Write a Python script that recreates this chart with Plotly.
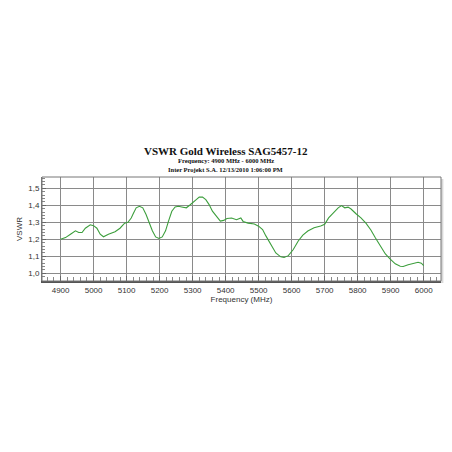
import plotly.graph_objects as go

freq_mhz = [4900, 4915, 4930, 4945, 4955, 4965, 4975, 4990, 5000, 5010, 5020, 5030, 5045, 5065,
            5080, 5094, 5104, 5114, 5120, 5129, 5139, 5149, 5159, 5169, 5178, 5188, 5198, 5208,
            5218, 5227, 5237, 5247, 5257, 5267, 5281, 5291, 5301, 5311, 5320, 5330, 5340, 5350,
            5360, 5373, 5384, 5394, 5404, 5418, 5433, 5446, 5453, 5468, 5487, 5500, 5512, 5522,
            5537, 5552, 5567, 5577, 5590, 5605, 5620, 5634, 5649, 5668, 5688, 5700, 5712, 5727,
            5741, 5751, 5761, 5771, 5780, 5795, 5810, 5825, 5840, 5854, 5869, 5884, 5898, 5914,
            5929, 5938, 5953, 5968, 5983, 5993, 6000]
vswr = [1.20, 1.21, 1.23, 1.25, 1.24, 1.24, 1.265, 1.285, 1.28, 1.265, 1.23, 1.215, 1.23, 1.245,
        1.265, 1.295, 1.30, 1.325, 1.35, 1.385, 1.394, 1.385, 1.346, 1.297, 1.25, 1.214, 1.205, 1.214,
        1.25, 1.307, 1.365, 1.39, 1.394, 1.39, 1.385, 1.40, 1.414, 1.433, 1.448, 1.448, 1.433, 1.404,
        1.365, 1.33, 1.307, 1.311, 1.322, 1.325, 1.315, 1.325, 1.305, 1.295, 1.29, 1.277, 1.257, 1.22,
        1.17, 1.12, 1.097, 1.093, 1.104, 1.14, 1.19, 1.225, 1.249, 1.268, 1.278, 1.288, 1.326, 1.356,
        1.385, 1.398, 1.385, 1.389, 1.378, 1.35, 1.326, 1.295, 1.255, 1.208, 1.158, 1.114, 1.085, 1.056,
        1.042, 1.04, 1.05, 1.056, 1.065, 1.06, 1.046]

x_ticks = [4900, 5000, 5100, 5200, 5300, 5400, 5500, 5600, 5700, 5800, 5900, 6000]
y_ticks = [1.0, 1.1, 1.2, 1.3, 1.4, 1.5]
y_tick_labels = ["1,0", "1,1", "1,2", "1,3", "1,4", "1,5"]

title_text = "VSWR Gold Wireless SAG5457-12"
subtitle_1 = "Frequency: 4900 MHz - 6000 MHz"
subtitle_2 = "Inter Projekt S.A. 12/13/2010 1:06:00 PM"

fig = go.Figure()
fig.add_trace(go.Scatter(x=freq_mhz, y=vswr, mode="lines",
                         line=dict(color="#3c9e3c", width=1.1),
                         showlegend=False, hoverinfo="skip"))

serif = "Liberation Serif, Times New Roman, serif"
sans = "Liberation Sans, Arial, sans-serif"

fig.update_layout(
    width=444, height=444,
    margin=dict(l=25, r=11, t=169, b=171, pad=0),
    paper_bgcolor="white", plot_bgcolor="white",
    font=dict(family=sans, size=8, color="#333"),
    annotations=[
        dict(text="<b>" + title_text + "</b>", x=0.46, y=1.25, xref="paper", yref="paper",
             showarrow=False, font=dict(family=serif, size=11, color="#111"), yanchor="middle"),
        dict(text="<b>" + subtitle_1 + "</b>", x=0.46, y=1.155, xref="paper", yref="paper",
             showarrow=False, font=dict(family=serif, size=6.5, color="#111"), yanchor="middle"),
        dict(text="<b>" + subtitle_2 + "</b>", x=0.46, y=1.07, xref="paper", yref="paper",
             showarrow=False, font=dict(family=serif, size=6.5, color="#111"), yanchor="middle"),
    ],
    shapes=[
        dict(type="rect", xref="paper", yref="paper", x0=0.006, y0=-0.02, x1=1.006, y1=0.98,
             line=dict(width=0), fillcolor="#d8d8d8", layer="below"),
        dict(type="rect", xref="paper", yref="paper", x0=0, y0=0, x1=1, y1=1,
             line=dict(width=0), fillcolor="white", layer="below"),
        dict(type="rect", xref="paper", yref="paper", x0=0, y0=0, x1=1, y1=1,
             line=dict(width=1, color="#777"), layer="above"),
    ],
)

fig.update_xaxes(
    range=[4843.7, 6052.5], tickmode="array", tickvals=x_ticks,
    showgrid=True, gridcolor="#8a8a8a", gridwidth=1,
    showline=True, linecolor="#555", linewidth=2, mirror=False,
    ticks="inside", ticklen=5, tickcolor="#666",
    minor=dict(dtick=20, tick0=4900, ticks="inside", ticklen=4, tickcolor="#888", showgrid=False),
    tickfont=dict(family=sans, size=8, color="#333"),
    title=dict(text="Frequency (MHz)", font=dict(family=sans, size=8, color="#333"), standoff=2),
    zeroline=False,
)
fig.update_yaxes(
    range=[0.955, 1.566], tickmode="array", tickvals=y_ticks, ticktext=y_tick_labels,
    showgrid=True, gridcolor="#8a8a8a", gridwidth=1,
    showline=True, linecolor="#777", linewidth=1,
    ticks="inside", ticklen=4, tickcolor="#666",
    minor=dict(dtick=0.02, tick0=1.0, ticks="inside", ticklen=3, tickcolor="#888", showgrid=False),
    tickfont=dict(family=sans, size=8, color="#333"),
    title=dict(text="VSWR", font=dict(family=sans, size=8, color="#333"), standoff=4),
    zeroline=False,
)

fig.write_html("out.html")
